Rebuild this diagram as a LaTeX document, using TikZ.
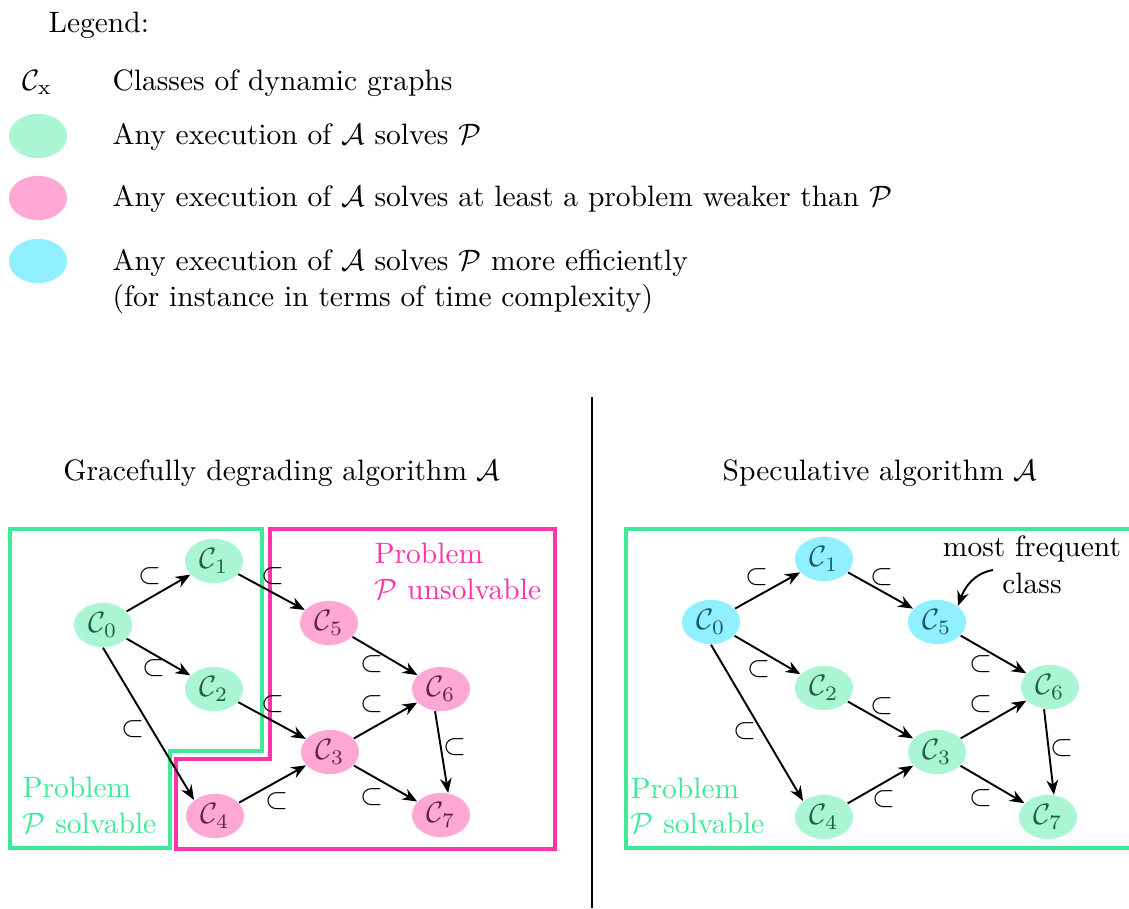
\documentclass[tikz,border=0pt]{standalone}
\usetikzlibrary{arrows.meta,shapes.geometric}
\definecolor{gfill}{RGB}{170,245,212}
\definecolor{pfill}{RGB}{255,168,214}
\definecolor{cfill}{RGB}{145,240,255}
\definecolor{gtext}{RGB}{35,95,70}
\definecolor{ptext}{RGB}{100,35,75}
\definecolor{ctext}{RGB}{25,90,105}
\definecolor{gline}{RGB}{64,232,152}
\definecolor{pline}{RGB}{255,51,170}
\begin{document}
\begin{tikzpicture}[x=0.339pt,y=-0.339pt,
  cls/.style={ellipse, minimum width=19.7pt, minimum height=15pt, inner sep=0pt},
  gn/.style={cls, fill=gfill, text=gtext},
  pn/.style={cls, fill=pfill, text=ptext},
  cn/.style={cls, fill=cfill, text=ctext},
  arr/.style={-{Stealth[length=5pt,width=4pt,inset=1.6pt]}, line width=0.65pt},
  sub/.style={inner sep=0pt},
  txt/.style={inner sep=0pt, anchor=base west},
  ctxt/.style={inner sep=0pt, anchor=base},
  gbox/.style={draw=gline, line width=1.2pt},
  pbox/.style={draw=pline, line width=1.2pt}]
\clip (0,0) rectangle (1129,908);
\fill[white] (0,0) rectangle (1129,908);

% Legend
\node[txt] (leg) at (48,32) {Legend:};
\node[txt] (cx) at (22,90) {$\mathcal{C}_{\mathrm{x}}$};
\node[txt] (t1) at (112,90) {Classes of dynamic graphs};
\node[cls, fill=gfill] (e1) at (38,136) {};
\node[txt] (t2) at (112,144) {Any execution of $\mathcal{A}$ solves $\mathcal{P}$};
\node[cls, fill=pfill] (e2) at (38,198) {};
\node[txt] (t3) at (112,206) {Any execution of $\mathcal{A}$ solves at least a problem weaker than $\mathcal{P}$};
\node[cls, fill=cfill] (e3) at (38,261) {};
\node[txt] (t4) at (112,270) {Any execution of $\mathcal{A}$ solves $\mathcal{P}$ more efficiently};
\node[txt] (t5) at (112,306) {(for instance in terms of time complexity)};

% separator
\draw[line width=0.7pt] (592,397) -- (592,908);

% titles
\node[ctxt] (title1) at (282,480) {Gracefully degrading algorithm $\mathcal{A}$};
\node[ctxt] (title2) at (880,480) {Speculative algorithm $\mathcal{A}$};

% Left boxes
\draw[gbox] (10,529) -- (262,529) -- (262,751) -- (170,751) -- (170,848) -- (10,848) -- cycle;
\draw[pbox] (270,529) -- (555,529) -- (555,849) -- (176,849) -- (176,759) -- (270,759) -- cycle;

\node[txt, text=gline] (ls1) at (22,797) {Problem};
\node[txt, text=gline] (ls2) at (22,833) {$\mathcal{P}$ solvable};
\node[txt, text=pline] (lu1) at (374,563) {Problem};
\node[txt, text=pline] (lu2) at (374,599) {$\mathcal{P}$ unsolvable};

% Left nodes
\node[gn] (l0) at (103,625) {$\mathcal{C}_0$};
\node[gn] (l1) at (214,561) {$\mathcal{C}_1$};
\node[gn] (l2) at (214,689) {$\mathcal{C}_2$};
\node[pn] (l3) at (330,752) {$\mathcal{C}_3$};
\node[pn] (l4) at (215,816) {$\mathcal{C}_4$};
\node[pn] (l5) at (329,623) {$\mathcal{C}_5$};
\node[pn] (l6) at (441,689) {$\mathcal{C}_6$};
\node[pn] (l7) at (441,815) {$\mathcal{C}_7$};

\draw[arr] (l0) -- (l1);
\draw[arr] (l0) -- (l2);
\draw[arr] (l0.south) -- (l4.north west);
\draw[arr] (l1) -- (l5);
\draw[arr] (l2) -- (l3);
\draw[arr] (l4) -- (l3);
\draw[arr] (l5) -- (l6);
\draw[arr] (l3) -- (l6);
\draw[arr] (l3) -- (l7);
\draw[arr] (l6.255) -- (l7.72);

\node[sub] (ls01) at (150,576) {$\subset$};
\node[sub] (ls15) at (273,576) {$\subset$};
\node[sub] (ls02) at (154,668) {$\subset$};
\node[sub] (ls23) at (273,704) {$\subset$};
\node[sub] (ls04) at (133,729) {$\subset$};
\node[sub] (ls43) at (277,801) {$\subset$};
\node[sub] (ls56) at (372,664) {$\subset$};
\node[sub] (ls36) at (372,704) {$\subset$};
\node[sub] (ls67) at (455,747) {$\subset$};
\node[sub] (ls37) at (372,797) {$\subset$};

% Right box
\draw[gbox] (626,529) -- (1140,529) -- (1140,848) -- (626,848) -- cycle;
\node[txt, text=gline] (rs1) at (630,798) {Problem};
\node[txt, text=gline] (rs2) at (630,833) {$\mathcal{P}$ solvable};

% Right nodes
\node[cn] (r0) at (711,622) {$\mathcal{C}_0$};
\node[cn] (r1) at (824,559) {$\mathcal{C}_1$};
\node[gn] (r2) at (824,688) {$\mathcal{C}_2$};
\node[gn] (r3) at (937,752) {$\mathcal{C}_3$};
\node[gn] (r4) at (824,817) {$\mathcal{C}_4$};
\node[cn] (r5) at (937,622) {$\mathcal{C}_5$};
\node[gn] (r6) at (1050,687) {$\mathcal{C}_6$};
\node[gn] (r7) at (1048,817) {$\mathcal{C}_7$};

\draw[arr] (r0) -- (r1);
\draw[arr] (r0) -- (r2);
\draw[arr] (r0.south) -- (r4.north west);
\draw[arr] (r1) -- (r5);
\draw[arr] (r2) -- (r3);
\draw[arr] (r4) -- (r3);
\draw[arr] (r5) -- (r6);
\draw[arr] (r3) -- (r6);
\draw[arr] (r3) -- (r7);
\draw[arr] (r6.255) -- (r7.75);

\node[sub] (rs01) at (757,577) {$\subset$};
\node[sub] (rs15) at (882,577) {$\subset$};
\node[sub] (rs02) at (759,669) {$\subset$};
\node[sub] (rs23) at (882,706) {$\subset$};
\node[sub] (rs04) at (745,731) {$\subset$};
\node[sub] (rs43) at (884,799) {$\subset$};
\node[sub] (rs56) at (981,664) {$\subset$};
\node[sub] (rs36) at (981,704) {$\subset$};
\node[sub] (rs67) at (1062,748) {$\subset$};
\node[sub] (rs37) at (981,798) {$\subset$};

% annotation
\node[ctxt] (mf1) at (1032,556) {most frequent};
\node[ctxt] (mf2) at (1032,593) {class};
\coordinate (mfs) at (993,570);
\draw[arr] (mfs) to[out=190, in=70] (r5.north east);
\end{tikzpicture}
\end{document}
